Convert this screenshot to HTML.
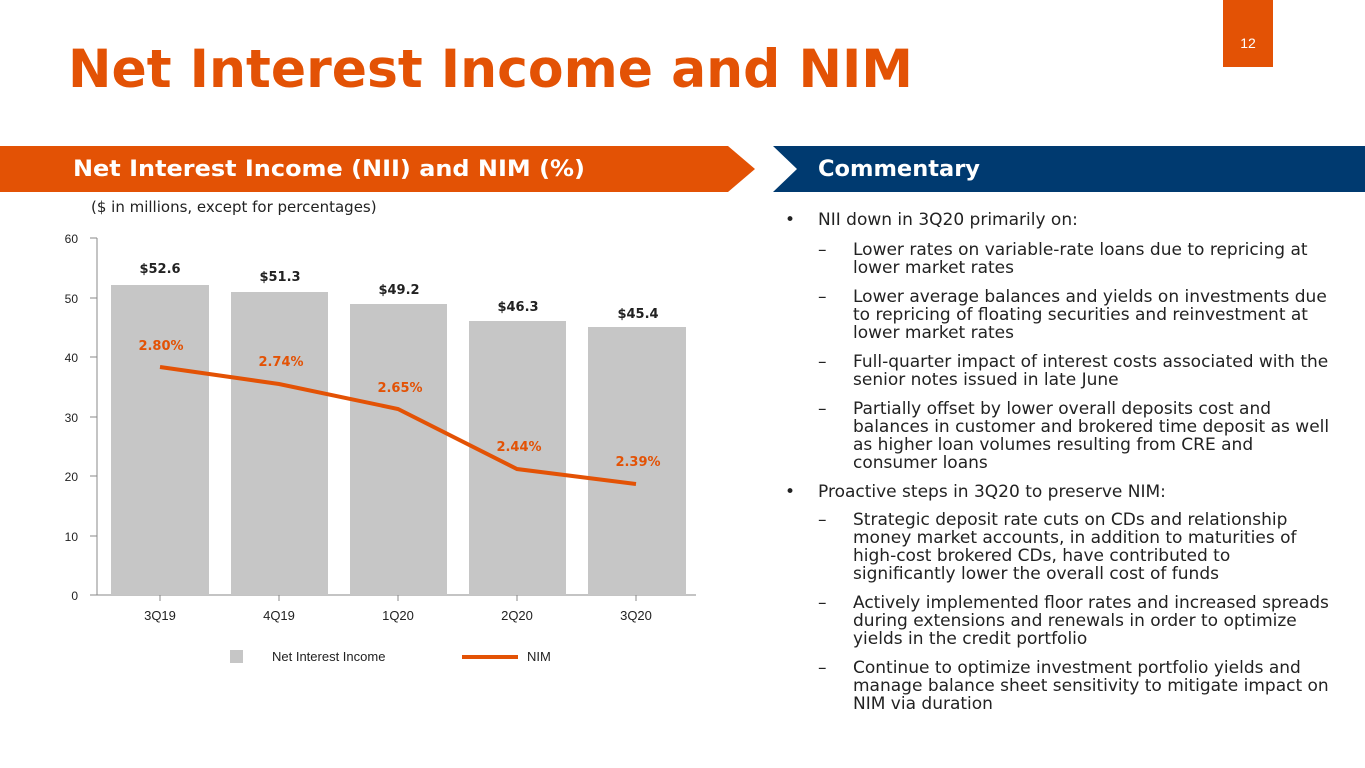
<!DOCTYPE html>
<html><head><meta charset="utf-8"><style>
body{margin:0;background:#fff;}
svg{display:block;font-family:"Liberation Sans","DejaVu Sans",sans-serif;}
</style></head><body>
<svg width="1365" height="768" viewBox="0 0 1365 768">
<rect x="1223" y="0" width="50" height="67" fill="#e35205"/>
<text x="1248" y="48" font-size="14" fill="#fff" text-anchor="middle">12</text>
<text x="68" y="87" font-size="53" font-weight="bold" fill="#e35205" font-family="DejaVu Sans, sans-serif" textLength="845" lengthAdjust="spacingAndGlyphs">Net Interest Income and NIM</text>
<polygon points="0,146 728,146 755,169 728,192 0,192" fill="#e35205"/>
<polygon points="773,146 1365,146 1365,192 773,192 797,169" fill="#003a70"/>
<text x="73" y="176" font-size="22" font-weight="bold" fill="#fff" font-family="DejaVu Sans, sans-serif" textLength="512" lengthAdjust="spacingAndGlyphs">Net Interest Income (NII) and NIM (%)</text>
<text x="818" y="176" font-size="22" font-weight="bold" fill="#fff" font-family="DejaVu Sans, sans-serif" textLength="162" lengthAdjust="spacingAndGlyphs">Commentary</text>
<text x="91" y="212" font-size="15" fill="#222" font-family="DejaVu Sans, sans-serif">($ in millions, except for percentages)</text>
<g font-size="12" fill="#222" text-anchor="end">
<text x="78" y="243">60</text><text x="78" y="303">50</text><text x="78" y="362">40</text>
<text x="78" y="422">30</text><text x="78" y="481">20</text><text x="78" y="541">10</text><text x="78" y="600">0</text>
</g>
<g stroke="#888" stroke-width="1">
<line x1="97" y1="238" x2="97" y2="595"/>
<line x1="90" y1="238" x2="97" y2="238"/><line x1="90" y1="298" x2="97" y2="298"/><line x1="90" y1="357" x2="97" y2="357"/>
<line x1="90" y1="417" x2="97" y2="417"/><line x1="90" y1="476" x2="97" y2="476"/><line x1="90" y1="536" x2="97" y2="536"/>
<line x1="90" y1="595" x2="696" y2="595"/>
<line x1="160" y1="595" x2="160" y2="601"/><line x1="279" y1="595" x2="279" y2="601"/><line x1="398" y1="595" x2="398" y2="601"/><line x1="517" y1="595" x2="517" y2="601"/><line x1="636" y1="595" x2="636" y2="601"/>
</g>
<g fill="#c6c6c6">
<rect x="111" y="285" width="98" height="310"/>
<rect x="231" y="292" width="97" height="303"/>
<rect x="350" y="304" width="97" height="291"/>
<rect x="469" y="321" width="97" height="274"/>
<rect x="588" y="327" width="98" height="268"/>
</g>
<g font-size="13" font-weight="bold" fill="#222" text-anchor="middle" font-family="DejaVu Sans, sans-serif">
<text x="160" y="273">$52.6</text><text x="280" y="281">$51.3</text><text x="399" y="294">$49.2</text><text x="518" y="311">$46.3</text><text x="638" y="318">$45.4</text>
</g>
<polyline points="160,367 279,384 398,409 517,469 636,484" fill="none" stroke="#e35205" stroke-width="4"/>
<g font-size="13" font-weight="bold" fill="#e35205" text-anchor="middle" font-family="DejaVu Sans, sans-serif">
<text x="161" y="350">2.80%</text><text x="281" y="366">2.74%</text><text x="400" y="392">2.65%</text><text x="519" y="451">2.44%</text><text x="638" y="466">2.39%</text>
</g>
<g font-size="13" fill="#222" text-anchor="middle">
<text x="160" y="620">3Q19</text><text x="279" y="620">4Q19</text><text x="398" y="620">1Q20</text><text x="517" y="620">2Q20</text><text x="636" y="620">3Q20</text>
</g>
<rect x="230" y="650" width="13" height="13" fill="#c6c6c6"/>
<text x="272" y="661" font-size="13" fill="#222">Net Interest Income</text>
<line x1="462" y1="657" x2="518" y2="657" stroke="#e35205" stroke-width="4"/>
<text x="527" y="661" font-size="13" fill="#222">NIM</text>
<g font-size="17" fill="#222" font-family="DejaVu Sans, sans-serif">
<text x="785" y="225">•</text><text x="818" y="225">NII down in 3Q20 primarily on:</text>
<text x="818" y="255">–</text><text x="853" y="255">Lower rates on variable-rate loans due to repricing at</text>
<text x="853" y="273">lower market rates</text>
<text x="818" y="302">–</text><text x="853" y="302">Lower average balances and yields on investments due</text>
<text x="853" y="320">to repricing of floating securities and reinvestment at</text>
<text x="853" y="338">lower market rates</text>
<text x="818" y="367">–</text><text x="853" y="367">Full-quarter impact of interest costs associated with the</text>
<text x="853" y="385">senior notes issued in late June</text>
<text x="818" y="414">–</text><text x="853" y="414">Partially offset by lower overall deposits cost and</text>
<text x="853" y="432">balances in customer and brokered time deposit as well</text>
<text x="853" y="450">as higher loan volumes resulting from CRE and</text>
<text x="853" y="468">consumer loans</text>
<text x="785" y="497">•</text><text x="818" y="497">Proactive steps in 3Q20 to preserve NIM:</text>
<text x="818" y="525">–</text><text x="853" y="525">Strategic deposit rate cuts on CDs and relationship</text>
<text x="853" y="543">money market accounts, in addition to maturities of</text>
<text x="853" y="561">high-cost brokered CDs, have contributed to</text>
<text x="853" y="579">significantly lower the overall cost of funds</text>
<text x="818" y="608">–</text><text x="853" y="608">Actively implemented floor rates and increased spreads</text>
<text x="853" y="626">during extensions and renewals in order to optimize</text>
<text x="853" y="644">yields in the credit portfolio</text>
<text x="818" y="673">–</text><text x="853" y="673">Continue to optimize investment portfolio yields and</text>
<text x="853" y="691">manage balance sheet sensitivity to mitigate impact on</text>
<text x="853" y="709">NIM via duration</text>
</g>
</svg>
</body></html>
